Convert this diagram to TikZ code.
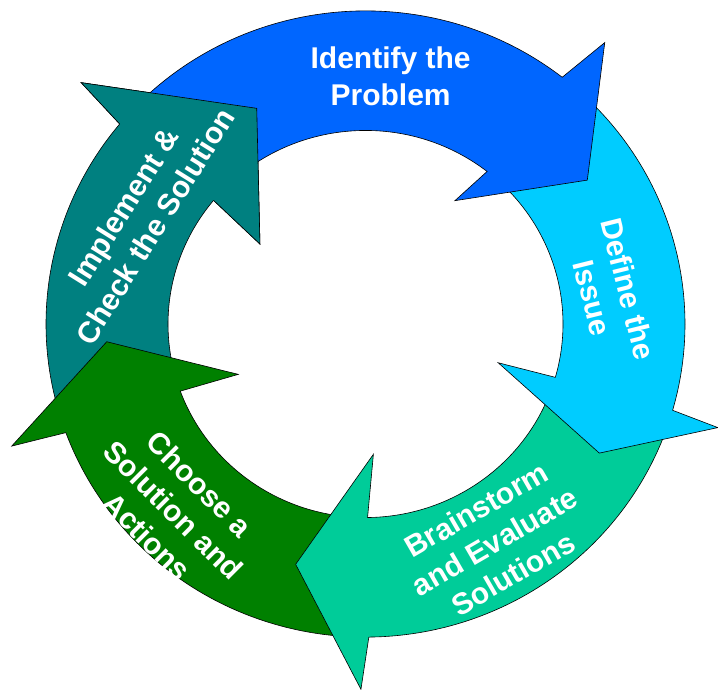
\documentclass[tikz,border=0pt]{standalone}
\usepackage{fontspec}
\setmainfont{Liberation Sans}

\definecolor{identblue}{HTML}{0066FF}
\definecolor{definecyan}{HTML}{00CCFF}
\definecolor{brainsea}{HTML}{00CC99}
\definecolor{choosegreen}{HTML}{008000}
\definecolor{checkteal}{HTML}{008080}

\def\outerR{319.5}
\def\innerR{197.5}

\tikzset{
  stage/.style={draw=black, line width=0.6pt},
  stagetext/.style={text=white, inner sep=0pt, align=center,
    font=\bfseries\fontsize{30}{37}\selectfont}
}

% one curved stage: colour, tail angle, head base angle, outer barb, inner barb, tip
\newcommand{\stagearrow}[6]{%
  \filldraw[stage, fill=#1] (#2:\outerR) arc[start angle=#2, end angle=#3, radius=\outerR]
    -- (#4) -- (#6) -- (#5) -- (#3:\innerR)
    arc[start angle=#3, end angle=#2, radius=\innerR] -- cycle;
}

\begin{document}
\begin{tikzpicture}[x=1pt, y=1pt]
\useasboundingbox (-365.5,-366) rectangle (352.5,324);

\begin{scope}[yscale=0.98]
\stagearrow{checkteal}{196}{140.3}{139.1:376.2}{142.3:133.4}{116.3:245.5}
\stagearrow{choosegreen}{-93}{-159.7}{-160.6:375.1}{-158:137.2}{-176:259.4}
\stagearrow{brainsea}{-19}{-89.4}{-90.7:372.8}{-86.6:133.2}{-105.9:255}
\stagearrow{definecyan}{47}{-16}{-16.7:367.9}{-16.6:138.5}{-29.4:268.4}
\stagearrow{identblue}{137}{52}{50.2:373.8}{54.6:154.4}{33.5:266}

% teal head once more, over the blue tail
\fill[checkteal] (140.3:\outerR) -- (139.1:376.2) -- (116.3:245.5) -- (142.3:133.4) -- (140.3:\innerR) -- cycle;
\draw[stage] (140.3:\outerR) -- (139.1:376.2) -- (116.3:245.5) -- (142.3:133.4) -- (140.3:\innerR);
\end{scope}

\node[stagetext] (identify) at (84.2:248.6) {Identify the\\Problem};
\node[stagetext, rotate=-76] (define) at (7.1:247) {Define the\\Issue};
\node[stagetext, rotate=30] (brainstorm) at (-59.3:253) {Brainstorm\\and Evaluate\\Solutions};
\node[stagetext, rotate=-45] (choose) at (-135.9:267.5) {Choose a\\Solution and\\Actions};
\node[stagetext, rotate=58] (implement) at (154.6:250.5) {Implement \&\\Check the Solution};
\end{tikzpicture}
\end{document}
